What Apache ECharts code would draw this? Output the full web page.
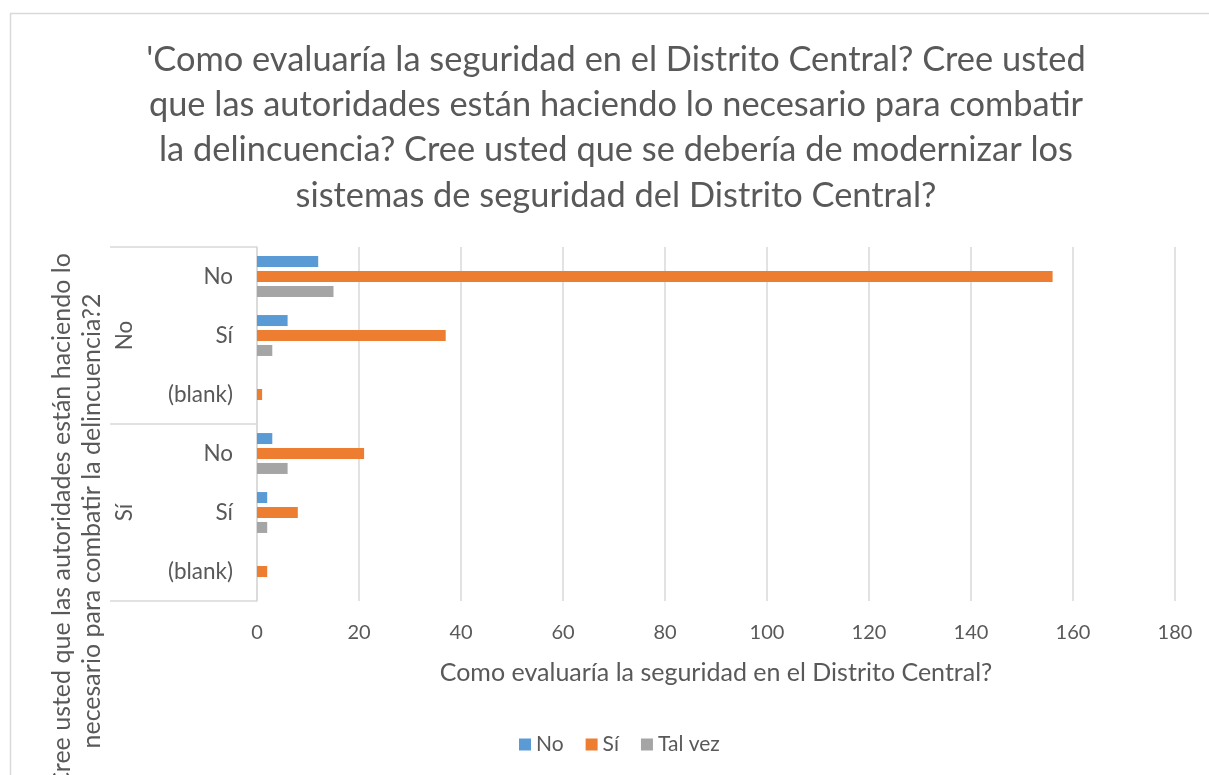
<!DOCTYPE html>
<html lang="es">
<head>
<meta charset="UTF-8">
<title>Seguridad en el Distrito Central</title>
<script src="https://cdn.jsdelivr.net/npm/echarts@6/dist/echarts.min.js"></script>
<style>
  html, body { margin: 0; padding: 0; background: #fff; }
  #main { width: 1209px; height: 775px; }
</style>
</head>
<body>
<div id="main"></div>
<script>
  // datos
  var groups = ['No', 'Sí'];
  var categories = ['No', 'Sí', '(blank)', 'No', 'Sí', '(blank)'];
  var seriesNames = ['No', 'Sí', 'Tal vez'];
  var valuesNo = [12, 6, null, 3, 2, null];
  var valuesSi = [156, 37, 1, 21, 8, 2];
  var valuesTalVez = [15, 3, null, 6, 2, null];
  var xTicks = { min: 0, max: 180, step: 20 };

  var txt = '#595959';
  var line = '#D9D9D9';
  var font = 'Lato';

  // claves unicas para el eje de categorias (grupo|categoria)
  var catKeys = categories.map(function (c, i) { return groups[i < 3 ? 0 : 1] + '|' + c; });

  var myChart = echarts.init(document.getElementById('main'));
  myChart.setOption({
    animation: false,
    color: ['#5B9BD5', '#ED7D31', '#A5A5A5'],
    textStyle: { fontFamily: font, color: txt },
    title: {
      text: "'Como evaluaría la seguridad en el Distrito Central? Cree usted\nque las autoridades están haciendo lo necesario para combatir\nla delincuencia? Cree usted que se debería de modernizar los\nsistemas de seguridad del Distrito Central?",
      left: 616,
      top: 37,
      padding: 0,
      textAlign: 'center',
      textStyle: { fontFamily: font, fontSize: 34.4, fontWeight: 'normal', color: txt, lineHeight: 45.3 }
    },
    legend: {
      data: seriesNames,
      left: 514,
      top: 729,
      icon: 'rect',
      itemWidth: 12,
      itemHeight: 12,
      itemGap: 22,
      textStyle: { fontFamily: font, fontSize: 21, color: txt }
    },
    grid: { left: 257, right: 34, top: 247, bottom: 174, containLabel: false },
    xAxis: {
      type: 'value',
      min: xTicks.min,
      max: xTicks.max,
      interval: xTicks.step,
      name: 'Como evaluaría la seguridad en el Distrito Central?',
      nameLocation: 'middle',
      nameGap: 59,
      nameTextStyle: { fontFamily: font, fontSize: 25, color: txt },
      axisLine: { show: false },
      axisTick: { show: false },
      axisLabel: { margin: 22, fontFamily: font, fontSize: 20, color: txt },
      splitLine: { show: true, lineStyle: { color: line, width: 1.5 } }
    },
    yAxis: [{
      type: 'category',
      data: catKeys,
      inverse: true,
      axisLine: { show: true, lineStyle: { color: line, width: 1.5 } },
      axisTick: { show: false },
      axisLabel: {
        margin: 24, fontFamily: font, fontSize: 22.5, color: txt,
        formatter: function (v) { return v.split('|')[1]; }
      }
    }, {
      type: 'category',
      data: groups,
      inverse: true,
      position: 'left',
      axisLine: { show: false },
      axisTick: { show: true, length: 147, alignWithLabel: false, lineStyle: { color: line, width: 1.5 } },
      axisLabel: { rotate: 90, margin: 121, fontFamily: font, fontSize: 22.5, color: txt }
    }],
    series: [
      { name: seriesNames[0], type: 'bar', yAxisIndex: 0, data: valuesNo, barWidth: 11, barGap: '36%' },
      { name: seriesNames[1], type: 'bar', yAxisIndex: 0, data: valuesSi, barWidth: 11, barGap: '36%' },
      { name: seriesNames[2], type: 'bar', yAxisIndex: 0, data: valuesTalVez, barWidth: 11, barGap: '36%' }
    ],
    graphic: [{
      type: 'rect',
      left: 8, top: 11,
      shape: { width: 1230, height: 800 },
      style: { fill: 'none', stroke: line, lineWidth: 1.5 },
      silent: true
    }, {
      type: 'text',
      x: 77, y: 521,
      rotation: Math.PI / 2,
      style: {
        text: 'Cree usted que las autoridades están haciendo lo\nnecesario para combatir la delincuencia?2',
        font: '25px Lato',
        fill: txt,
        lineHeight: 30,
        textAlign: 'center', textVerticalAlign: 'middle',
        align: 'center', verticalAlign: 'middle'
      }
    }]
  });
</script>
</body>
</html>
